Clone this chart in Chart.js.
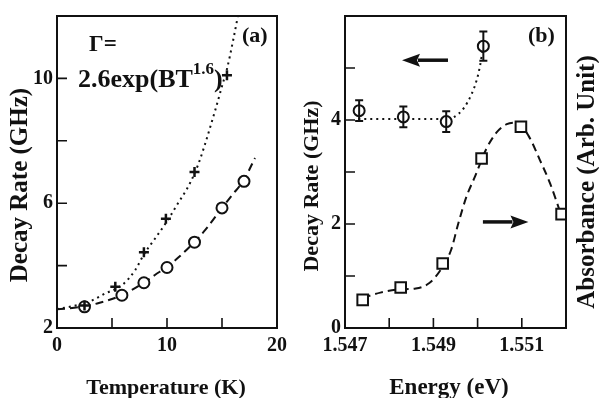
<!DOCTYPE html>
<html>
<head>
<meta charset="utf-8">
<script src="https://cdn.jsdelivr.net/npm/chart.js@4.4.1/dist/chart.umd.min.js"></script>
<style>
  body { margin: 0; background: #fff; }
  #wrap { position: relative; width: 599px; height: 398px; }
  canvas { position: absolute; top: 0; }
  #chartA { left: 0; }
  #chartB { left: 300px; }
</style>
</head>
<body>
<div id="wrap">
  <canvas id="chartA" width="300" height="398"></canvas>
  <canvas id="chartB" width="299" height="398"></canvas>
</div>
<script>
// panel (a): decay rate vs temperature
const tempCircles = [2.5, 5.9, 7.9, 10.0, 12.5, 15.0, 17.0];
const rateCircles = [2.68, 3.05, 3.45, 3.94, 4.75, 5.85, 6.70];
const tempCrosses = [2.5, 5.3, 7.9, 9.9, 12.5, 15.45];
const rateCrosses = [2.72, 3.32, 4.43, 5.50, 7.00, 10.1];
const tempDotted = [0, 2.9, 4.4, 5.9, 7.1, 7.9, 8.9, 10.0, 11.0, 11.8, 12.5, 13.0, 14.4, 15.0, 15.45, 16.0, 16.5];
const rateDotted = [2.60, 2.84, 3.11, 3.37, 3.85, 4.36, 4.86, 5.42, 6.0, 6.45, 6.95, 7.4, 9.0, 9.75, 10.3, 11.2, 12.1];
const tempDashed = [0, 1.0, 2.5, 3.8, 5.9, 6.8, 7.9, 8.9, 10.0, 11.0, 12.5, 13.5, 15.0, 15.9, 17.0, 18.0];
const rateDashed = [2.60, 2.63, 2.70, 2.80, 3.05, 3.22, 3.45, 3.70, 3.96, 4.25, 4.76, 5.15, 5.85, 6.25, 6.75, 7.45];

// panel (b): decay rate and absorbance vs energy
const energyDecay = [1.54732, 1.54832, 1.54929, 1.55013];
const rateDecay = [4.18, 4.06, 3.97, 5.42];
const errDecay = [0.2, 0.2, 0.2, 0.28];
const energyDecayFit = [1.5473, 1.5483, 1.5493, 1.54945, 1.54968, 1.54987, 1.54998, 1.55005, 1.55013];
const rateDecayFit = [4.02, 4.02, 4.02, 4.05, 4.22, 4.51, 4.77, 5.02, 5.42];
const energyAbs = [1.54740, 1.54826, 1.54921, 1.55009, 1.55098, 1.55190];
const absorbance = [0.54, 0.78, 1.24, 3.26, 3.87, 2.19];
const energyAbsFit = [1.5474, 1.5478, 1.5482, 1.5486, 1.5489, 1.54915, 1.5494, 1.54956, 1.54975, 1.54994, 1.5502, 1.55043, 1.55066, 1.55088, 1.55115, 1.55141, 1.55164, 1.55186];
const absFit = [0.58, 0.68, 0.74, 0.76, 0.86, 1.1, 1.5, 2.0, 2.53, 2.91, 3.45, 3.76, 3.92, 3.95, 3.7, 3.23, 2.78, 2.25];

const INK = '#111';
const SERIF = '"Liberation Serif", "Times New Roman", serif';

Chart.defaults.font.family = SERIF;
Chart.defaults.font.weight = 'bold';
Chart.defaults.font.size = 20;
Chart.defaults.color = INK;
Chart.defaults.animation = false;
Chart.defaults.plugins.legend.display = false;
Chart.defaults.plugins.tooltip.enabled = false;

function pairs(xs, ys) {
    return xs.map((x, i) => ({ x: x, y: ys[i] }));
}

function font(size) {
    return 'bold ' + size + 'px ' + SERIF;
}

function label(ctx, str, x, y, size, align) {
    ctx.save();
    ctx.font = font(size);
    ctx.fillStyle = INK;
    ctx.textAlign = align || 'left';
    ctx.textBaseline = 'alphabetic';
    ctx.fillText(str, x, y);
    ctx.restore();
}

function vlabel(ctx, str, cx, cy, size) {
    ctx.save();
    ctx.font = font(size);
    ctx.fillStyle = INK;
    ctx.textAlign = 'center';
    ctx.textBaseline = 'middle';
    ctx.translate(cx, cy);
    ctx.rotate(-Math.PI / 2);
    ctx.fillText(str, 0, 0);
    ctx.restore();
}

// box round the plot area with tick marks pointing inwards
const framePlugin = {
    id: 'frame',
    afterDatasetsDraw(chart) {
        const ctx = chart.ctx;
        const a = chart.chartArea;
        ctx.save();
        ctx.strokeStyle = INK;
        ctx.lineWidth = 2;
        ctx.strokeRect(a.left, a.top, a.right - a.left, a.bottom - a.top);
        ctx.lineWidth = 1.6;
        ctx.beginPath();
        const xs = chart.scales.x;
        xs.ticks.forEach(t => {
            const px = xs.getPixelForValue(t.value);
            ctx.moveTo(px, a.bottom);
            ctx.lineTo(px, a.bottom - 10);
        });
        const ys = chart.scales.y;
        ys.ticks.forEach(t => {
            const py = ys.getPixelForValue(t.value);
            ctx.moveTo(a.left, py);
            ctx.lineTo(a.left + 10, py);
        });
        ctx.stroke();
        ctx.restore();
    }
};

function arrow(ctx, x1, y1, x2, y2) {
    const dir = Math.sign(x2 - x1);
    const head = 18;
    ctx.save();
    ctx.strokeStyle = INK;
    ctx.fillStyle = INK;
    ctx.lineWidth = 3.5;
    ctx.beginPath();
    ctx.moveTo(x1, y1);
    ctx.lineTo(x2 - dir * (head - 2), y2);
    ctx.stroke();
    ctx.beginPath();
    ctx.moveTo(x2, y2);
    ctx.lineTo(x2 - dir * head, y2 - 6.5);
    ctx.lineTo(x2 - dir * (head - 3), y2);
    ctx.lineTo(x2 - dir * head, y2 + 6.5);
    ctx.closePath();
    ctx.fill();
    ctx.restore();
}

const annotA = {
    id: 'annotA',
    afterDraw(chart) {
        const ctx = chart.ctx;
        label(ctx, 'Γ=', 89, 51, 23);
        ctx.save();
        ctx.font = font(26);
        const w = ctx.measureText('2.6exp(BT').width;
        ctx.font = font(17);
        const w2 = ctx.measureText('1.6').width;
        ctx.restore();
        label(ctx, '2.6exp(BT', 78, 87, 26);
        label(ctx, '1.6', 78 + w, 74, 17);
        label(ctx, ')', 78 + w + w2, 87, 26);
        label(ctx, '(a)', 242, 42, 22);
        vlabel(ctx, 'Decay Rate (GHz)', 21, 185, 25);
        label(ctx, 'Temperature (K)', 166, 394, 22, 'center');
    }
};

const annotB = {
    id: 'annotB',
    afterDraw(chart) {
        const ctx = chart.ctx;
        const xs = chart.scales.x;
        const ys = chart.scales.y;
        // error bars on the decay rate points
        ctx.save();
        ctx.strokeStyle = INK;
        ctx.lineWidth = 2;
        ctx.beginPath();
        energyDecay.forEach((e, i) => {
            const px = xs.getPixelForValue(e);
            const top = ys.getPixelForValue(rateDecay[i] + errDecay[i]);
            const bot = ys.getPixelForValue(rateDecay[i] - errDecay[i]);
            ctx.moveTo(px, top);
            ctx.lineTo(px, bot);
            ctx.moveTo(px - 4, top);
            ctx.lineTo(px + 4, top);
            ctx.moveTo(px - 4, bot);
            ctx.lineTo(px + 4, bot);
        });
        ctx.stroke();
        ctx.restore();
        arrow(ctx, xs.getPixelForValue(1.54933), ys.getPixelForValue(5.15),
            xs.getPixelForValue(1.54829), ys.getPixelForValue(5.15));
        arrow(ctx, xs.getPixelForValue(1.55012), ys.getPixelForValue(2.04),
            xs.getPixelForValue(1.55115), ys.getPixelForValue(2.04));
        label(ctx, '(b)', 228, 42, 22);
        vlabel(ctx, 'Decay Rate (GHz)', 12, 186, 22);
        vlabel(ctx, 'Absorbance (Arb. Unit)', 288, 182, 25);
        label(ctx, 'Energy (eV)', 149, 394, 23, 'center');
    }
};

const circle = { pointStyle: 'circle', pointRadius: 5.5, borderWidth: 2, borderColor: INK, backgroundColor: '#fff', showLine: false, order: 0 };

function fitLine(dash, width) {
    return { pointRadius: 0, borderColor: INK, borderWidth: width, borderDash: dash, cubicInterpolationMode: 'monotone', fill: false, order: 1 };
}

const noGrid = { display: false, drawTicks: false };

let chartA = new Chart(document.getElementById('chartA'), {
    type: 'scatter',
    data: {
        datasets: [
            Object.assign({ data: pairs(tempCircles, rateCircles) }, circle),
            { data: pairs(tempCrosses, rateCrosses), pointStyle: 'cross', pointRadius: 5, borderWidth: 2.5, borderColor: INK, showLine: false, order: -1 },
            Object.assign({ data: pairs(tempDotted, rateDotted), showLine: true }, fitLine([2, 4], 2)),
            Object.assign({ data: pairs(tempDashed, rateDashed), showLine: true }, fitLine([8, 5], 2)),
        ],
    },
    options: {
        responsive: false,
        layout: { padding: { left: 0, top: 14, right: 23, bottom: 0 } },
        scales: {
            x: {
                type: 'linear', min: 0, max: 20,
                grid: noGrid, border: { display: false },
                ticks: { stepSize: 5, autoSkip: false, maxRotation: 0, padding: 6,
                    callback: v => (v % 10 === 0 ? v : '') },
                afterFit: s => { s.height = 70; },
            },
            y: {
                min: 2, max: 12,
                grid: noGrid, border: { display: false },
                ticks: { stepSize: 2, autoSkip: false, padding: 4,
                    callback: v => ([2, 6, 10].includes(v) ? v : '') },
                afterFit: s => { s.width = 57; },
            },
        },
    },
    plugins: [framePlugin, annotA],
});

let chartB = new Chart(document.getElementById('chartB'), {
    type: 'scatter',
    data: {
        datasets: [
            Object.assign({ data: pairs(energyDecay, rateDecay) }, circle),
            { data: pairs(energyAbs, absorbance), yAxisID: 'yAbs', pointStyle: 'rect', pointRadius: 7.5, borderWidth: 2, borderColor: INK, backgroundColor: '#fff', showLine: false, order: 0 },
            Object.assign({ data: pairs(energyDecayFit, rateDecayFit), showLine: true }, fitLine([2, 4], 2)),
            Object.assign({ data: pairs(energyAbsFit, absFit), yAxisID: 'yAbs', showLine: true }, fitLine([8, 5], 2)),
        ],
    },
    options: {
        responsive: false,
        layout: { padding: { left: 0, top: 14, right: 33, bottom: 0 } },
        scales: {
            x: {
                type: 'linear', min: 1.547, max: 1.552,
                grid: noGrid, border: { display: false },
                ticks: { stepSize: 0.001, autoSkip: false, maxRotation: 0, padding: 6,
                    callback: v => (Math.round(v * 1000) % 2 === 1 ? v.toFixed(3) : '') },
                afterFit: s => { s.height = 70; },
            },
            y: {
                min: 0, max: 6,
                grid: noGrid, border: { display: false },
                ticks: { stepSize: 1, autoSkip: false, padding: 4,
                    callback: v => (v % 2 === 0 && v < 6 ? v : '') },
                afterFit: s => { s.width = 45; },
            },
            yAbs: { display: false, min: 0, max: 6 },
        },
    },
    plugins: [framePlugin, annotB],
});
</script>
</body>
</html>
